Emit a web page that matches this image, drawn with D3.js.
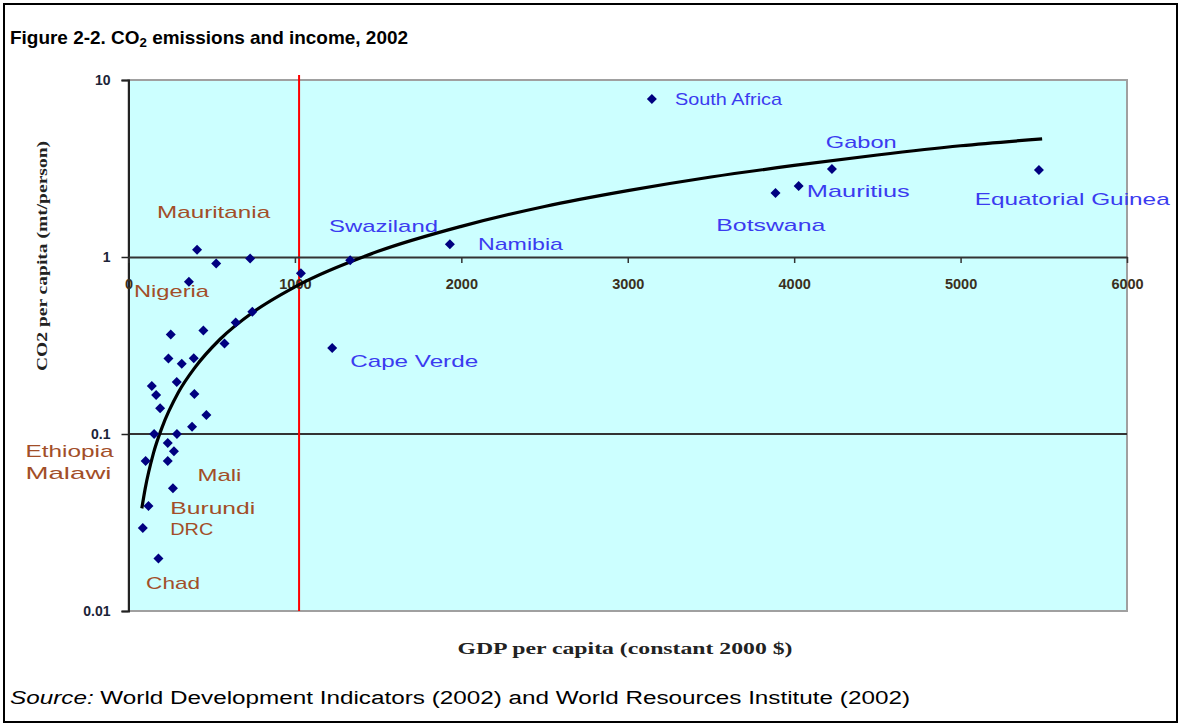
<!DOCTYPE html>
<html>
<head>
<meta charset="utf-8">
<script src="https://cdn.jsdelivr.net/npm/d3@7"></script>
<style>
  html, body { margin: 0; padding: 0; background: #fff; }
  svg { display: block; }
</style>
</head>
<body>
<svg id="chart" width="1181" height="726"></svg>
<script>
// ---- data ----
const gdp = [412, 527, 731, 363, 1036, 1332, 1931, 1224, 3145, 3888, 4027, 4227, 5471,
  744, 644, 450, 254, 577, 240, 320, 392, 290, 140, 166, 396, 190, 468, 382, 291, 154,
  236, 273, 103, 236, 267, 120, 86, 180];
const co2 = [1.10, 0.92, 0.98, 0.725, 0.81, 0.96, 1.18, 0.306, 7.8, 2.30, 2.52, 3.14, 3.10,
  0.49, 0.427, 0.384, 0.365, 0.325, 0.267, 0.249, 0.268, 0.197, 0.187, 0.166, 0.168, 0.140,
  0.128, 0.11, 0.100, 0.100, 0.089, 0.080, 0.0704, 0.0704, 0.0493, 0.0392, 0.0294, 0.0198];

// trendline (power fit)
const trendGdp = [80, 100, 150, 200, 300, 400, 550, 750, 1000, 1500, 2000, 2500, 3000, 3500, 4000, 4500, 5000, 5490];
const trendCo2 = [0.038, 0.049, 0.078, 0.108, 0.172, 0.238, 0.343, 0.489, 0.678, 1.076, 1.49, 1.93, 2.37, 2.83, 3.29, 3.77, 4.25, 4.65];

const xTicks = [0, 1000, 2000, 3000, 4000, 5000, 6000];
const xTickLabels = ["0", "1000", "2000", "3000", "4000", "5000", "6000"];
const yTicks = [0.01, 0.1, 1, 10];
const yTickLabels = ["0.01", "0.1", "1", "10"];
const gridValues = [0.1];
const thresholdGdp = 1025;

// country labels (text, anchor in data units, group)
const labelText = ["South Africa", "Gabon", "Mauritius", "Botswana", "Equatorial Guinea", "Swaziland",
  "Namibia", "Cape Verde", "Mauritania", "Nigeria", "Ethiopia", "Malawi", "Mali", "Burundi", "DRC", "Chad"];
const labelGdp = [3284, 4190, 4076, 3532, 5085, 1205, 2100, 1332, 172, 33, -619, -619, 414, 251, 251, 106];
const labelCo2 = [7.22, 4.13, 2.18, 1.40, 1.97, 1.38, 1.095, 0.239, 1.66, 0.594, 0.0741, 0.0557, 0.0543, 0.0353, 0.0269, 0.0133];
const labelGroup = ["high", "high", "high", "high", "high", "high", "high", "high",
  "low", "low", "low", "low", "low", "low", "low", "low"];
const labelWidth = [107, 71, 103, 109, 195, 109, 85, 128, 113, 75, 88, 86, 44, 85, 43, 54];

// ---- layout ----
const W = 1181, H = 726;
const plot = { left: 128.5, right: 1127, top: 80, bottom: 611 };
const svg = d3.select("#chart");
const sans = "Liberation Sans, Arial, sans-serif";
const serif = "Liberation Serif, Times New Roman, serif";

const x = d3.scaleLinear().domain([0, 6000]).range([plot.left, plot.right]);
const y = d3.scaleLog().domain([0.01, 10]).range([plot.bottom, plot.top]);
const groupColor = d3.scaleOrdinal().domain(["high", "low"]).range(["#3b3bf0", "#a24e28"]);

// outer frame
svg.append("rect").attr("x", 4).attr("y", 4).attr("width", W - 8).attr("height", H - 8)
  .attr("fill", "#fff").attr("stroke", "#000").attr("stroke-width", 2);

// title
const title = svg.append("text").attr("x", 10).attr("y", 44)
  .attr("font-family", sans).attr("font-size", 18.5)
  .attr("font-weight", "bold").attr("fill", "#000")
  .attr("textLength", 398).attr("lengthAdjust", "spacingAndGlyphs");
title.append("tspan").text("Figure 2-2. CO");
title.append("tspan").attr("font-size", 13).attr("dy", 3).text("2");
title.append("tspan").attr("dy", -3).text(" emissions and income, 2002");

// plot background
svg.append("rect").attr("x", plot.left).attr("y", plot.top)
  .attr("width", plot.right - plot.left).attr("height", plot.bottom - plot.top)
  .attr("fill", "#ccffff").attr("stroke", "#a0a0a0").attr("stroke-width", 2);

// gridline at 0.1
svg.append("g").selectAll("line").data(gridValues).join("line")
  .attr("x1", plot.left).attr("x2", plot.right)
  .attr("y1", d => y(d)).attr("y2", d => y(d))
  .attr("stroke", "#333").attr("stroke-width", 2);

// threshold line
svg.append("line").attr("x1", x(thresholdGdp)).attr("x2", x(thresholdGdp))
  .attr("y1", plot.top - 5).attr("y2", plot.bottom)
  .attr("stroke", "#ff0000").attr("stroke-width", 2);

// y axis
const yAxis = d3.axisLeft(y).tickValues(yTicks)
  .tickFormat((d, i) => yTickLabels[i]).tickSize(7).tickPadding(11);
const gy = svg.append("g").attr("transform", `translate(${plot.left},0)`).call(yAxis);
gy.select(".domain").attr("stroke", "#222").attr("stroke-width", 2);
gy.selectAll(".tick line").attr("stroke", "#222").attr("stroke-width", 1.5);
gy.selectAll(".tick text").attr("font-family", sans)
  .attr("font-size", 14).attr("font-weight", "bold").attr("fill", "#1c2438");

// x axis drawn at y = 1
const xAxis = d3.axisBottom(x).tickValues(xTicks)
  .tickFormat((d, i) => xTickLabels[i]).tickSize(6).tickPadding(16).tickSizeOuter(0);
const gx = svg.append("g").attr("transform", `translate(0,${y(1)})`).call(xAxis);
gx.select(".domain").attr("stroke", "#333").attr("stroke-width", 2);
gx.selectAll(".tick line").attr("stroke", "#333").attr("stroke-width", 1.5);
gx.selectAll(".tick text").attr("font-family", sans)
  .attr("font-size", 14.5).attr("font-weight", "bold").attr("fill", "#3a3020");

// trendline
const trend = trendGdp.map((g, i) => [g, trendCo2[i]]);
svg.append("path").datum(trend)
  .attr("d", d3.line().x(d => x(d[0])).y(d => y(d[1])).curve(d3.curveMonotoneX))
  .attr("fill", "none").attr("stroke", "#000").attr("stroke-width", 3.2);

// points
const pts = gdp.map((g, i) => [g, co2[i]]);
svg.append("g").selectAll("path").data(pts).join("path")
  .attr("d", d3.symbol(d3.symbolSquare, 50))
  .attr("transform", d => `translate(${x(d[0])},${y(d[1])}) rotate(45)`)
  .attr("fill", "#000080");

// country labels
svg.append("g").selectAll("text").data(labelText).join("text")
  .attr("x", (d, i) => x(labelGdp[i])).attr("y", (d, i) => y(labelCo2[i]))
  .attr("font-family", sans).attr("font-size", 17)
  .attr("fill", (d, i) => groupColor(labelGroup[i]))
  .attr("textLength", (d, i) => labelWidth[i]).attr("lengthAdjust", "spacingAndGlyphs")
  .text(d => d);

// axis titles
svg.append("text").attr("x", 625).attr("y", 654).attr("text-anchor", "middle")
  .attr("font-family", serif).attr("font-size", 16)
  .attr("font-weight", "bold").attr("fill", "#222")
  .attr("textLength", 335).attr("lengthAdjust", "spacingAndGlyphs")
  .text("GDP per capita (constant 2000 $)");

svg.append("text").attr("transform", "translate(47,256) rotate(-90)").attr("text-anchor", "middle")
  .attr("font-family", serif).attr("font-size", 14)
  .attr("font-weight", "bold").attr("fill", "#222")
  .attr("textLength", 230).attr("lengthAdjust", "spacingAndGlyphs")
  .text("CO2 per capita (mt/person)");

// source
const src = svg.append("text").attr("x", 10).attr("y", 704)
  .attr("font-family", sans).attr("font-size", 18).attr("fill", "#000")
  .attr("textLength", 900).attr("lengthAdjust", "spacingAndGlyphs");
src.append("tspan").attr("font-style", "italic").text("Source:");
src.append("tspan").text(" World Development Indicators (2002) and World Resources Institute (2002)");
</script>
</body>
</html>
